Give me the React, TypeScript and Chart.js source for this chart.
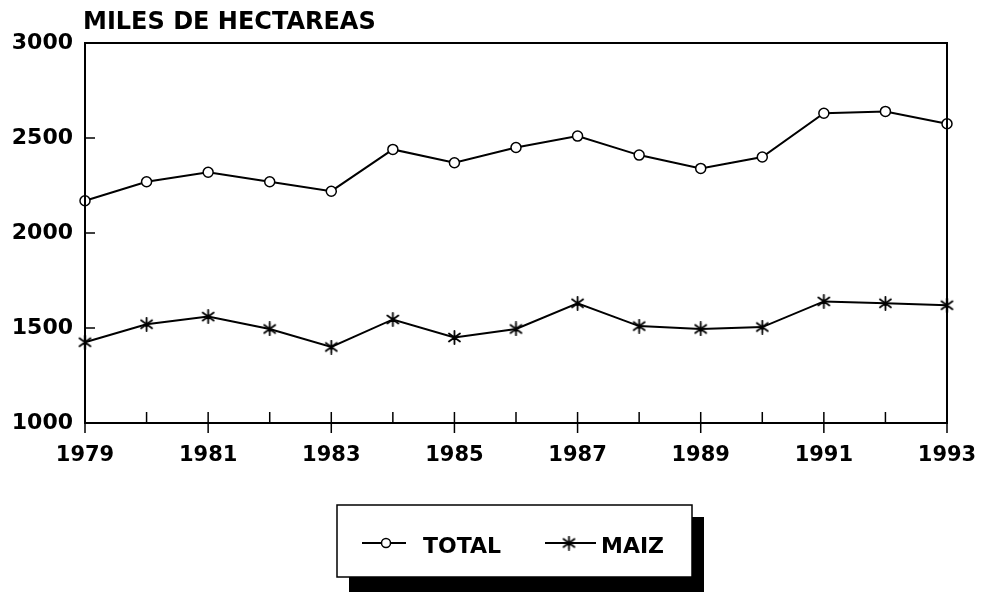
import React, { useEffect, useRef } from "react";
import { Chart, registerables } from "chart.js";
import { drawPoint } from "chart.js/helpers";

Chart.register(...registerables);

const years = ["1979","1980","1981","1982","1983","1984","1985","1986","1987","1988","1989","1990","1991","1992","1993"];
const totalValues = [2170, 2270, 2320, 2270, 2220, 2440, 2370, 2450, 2510, 2410, 2340, 2400, 2630, 2640, 2575];
const maizValues = [1425, 1520, 1560, 1495, 1400, 1545, 1450, 1495, 1630, 1510, 1495, 1505, 1640, 1630, 1620];
const yTicks = [1000, 1500, 2000, 2500, 3000];
const seriesNames = ["TOTAL", "MAIZ"];
const titleText = "MILES DE HECTAREAS";

const FONT = "'DejaVu Sans', sans-serif";

function makeAsterisk(): HTMLCanvasElement {
  const c = document.createElement("canvas");
  c.width = 15;
  c.height = 15;
  const g = c.getContext("2d")!;
  g.strokeStyle = "#000";
  g.lineWidth = 1.8;
  g.lineCap = "round";
  g.beginPath();
  g.moveTo(7.5, 1);
  g.lineTo(7.5, 14);
  g.moveTo(2, 3.5);
  g.lineTo(13, 11.5);
  g.moveTo(2, 11.5);
  g.lineTo(13, 3.5);
  g.stroke();
  return c;
}

export default function App() {
  const ref = useRef<HTMLCanvasElement>(null);
  useEffect(() => {
    document.body.style.margin = "0";
    const star = makeAsterisk();
    const framePlugin = {
      id: "frameAndExtras",
      afterDatasetsDraw(chart: any) {
        const { ctx, chartArea } = chart;
        const { left, right, top, bottom } = chartArea;
        const xs = chart.scales.x;
        const ys = chart.scales.y;
        ctx.save();
        ctx.strokeStyle = "#000";
        ctx.lineWidth = 2;
        ctx.beginPath();
        ctx.rect(left, top, right - left, bottom - top);
        ctx.stroke();
        ctx.lineWidth = 1.5;
        years.forEach((y, i) => {
          const px = xs.getPixelForValue(i);
          const odd = parseInt(y) % 2 === 1;
          ctx.beginPath();
          ctx.moveTo(px, bottom - 11);
          ctx.lineTo(px, odd ? bottom + 10 : bottom);
          ctx.stroke();
        });
        yTicks.forEach((v) => {
          const py = ys.getPixelForValue(v);
          ctx.beginPath();
          ctx.moveTo(left, py);
          ctx.lineTo(left + 10, py);
          ctx.stroke();
        });
        ctx.fillStyle = "#000";
        ctx.font = `bold 24px ${FONT}`;
        ctx.textAlign = "left";
        ctx.textBaseline = "alphabetic";
        ctx.fillText(titleText, 83, 29);

        const bx = 337, by = 505, bw = 355, bh = 72;
        ctx.fillStyle = "#000";
        ctx.fillRect(349, 517, bw, 592 - 517);
        ctx.fillStyle = "#fff";
        ctx.fillRect(bx, by, bw, bh);
        ctx.strokeStyle = "#000";
        ctx.lineWidth = 1.5;
        ctx.strokeRect(bx, by, bw, bh);

        const ly = 543;
        ctx.lineWidth = 2;
        ctx.beginPath();
        ctx.moveTo(362, ly);
        ctx.lineTo(406, ly);
        ctx.stroke();
        ctx.fillStyle = "#fff";
        ctx.lineWidth = 1.5;
        drawPoint(ctx, { pointStyle: "circle", radius: 4.5, rotation: 0, borderWidth: 1.5 }, 386, ly);
        ctx.lineWidth = 2;
        ctx.beginPath();
        ctx.moveTo(545, ly);
        ctx.lineTo(596, ly);
        ctx.stroke();
        drawPoint(ctx, { pointStyle: star, radius: 6.5, rotation: 0, borderWidth: 1.5 }, 569, ly);

        ctx.fillStyle = "#000";
        ctx.font = `bold 22px ${FONT}`;
        ctx.textBaseline = "alphabetic";
        ctx.fillText(seriesNames[0], 423, 553);
        ctx.fillText(seriesNames[1], 601, 553);
        ctx.restore();
      },
    };
    const chart = new Chart(ref.current!, {
      type: "line",
      data: {
        labels: years,
        datasets: [
          {
            label: seriesNames[0],
            data: totalValues,
            borderColor: "#000",
            backgroundColor: "#fff",
            borderWidth: 2,
            pointStyle: "circle",
            pointRadius: 5,
            pointBorderWidth: 1.5,
            pointBackgroundColor: "#fff",
            pointBorderColor: "#000",
            tension: 0,
          },
          {
            label: seriesNames[1],
            data: maizValues,
            borderColor: "#000",
            backgroundColor: "#000",
            borderWidth: 2,
            pointStyle: star,
            pointRadius: 6.5,
            pointBorderWidth: 1.5,
            pointBorderColor: "#000",
            tension: 0,
          },
        ],
      },
      options: {
        animation: false,
        responsive: true,
        maintainAspectRatio: false,
        layout: { padding: { top: 43, right: 34, left: 0, bottom: 0 } },
        plugins: { legend: { display: false }, tooltip: { enabled: false } },
        scales: {
          x: {
            type: "category",
            offset: false,
            grid: { display: false, drawTicks: false },
            border: { display: false },
            afterFit: (s: any) => { s.height = 169; s.paddingLeft = 0; s.paddingRight = 0; },
            ticks: {
              autoSkip: false,
              maxRotation: 0,
              padding: 20,
              color: "#000",
              font: { family: FONT, size: 21, weight: "bold" },
              callback: (_v: any, i: number) => (parseInt(years[i]) % 2 === 1 ? years[i] : ""),
            },
          },
          y: {
            min: 1000,
            max: 3000,
            grid: { display: false, drawTicks: false },
            border: { display: false },
            afterFit: (s: any) => { s.width = 85; s.paddingTop = 0; s.paddingBottom = 0; },
            afterBuildTicks: (s: any) => { s.ticks = yTicks.map((v) => ({ value: v })); },
            ticks: {
              padding: 12,
              color: "#000",
              font: { family: FONT, size: 22, weight: "bold" },
              callback: (v: any) => String(v),
            },
          },
        },
      },
      plugins: [framePlugin],
    });
    return () => chart.destroy();
  }, []);
  return (
    <div style={{ position: "relative", width: 981, height: 592 }}>
      <canvas ref={ref} />
    </div>
  );
}
